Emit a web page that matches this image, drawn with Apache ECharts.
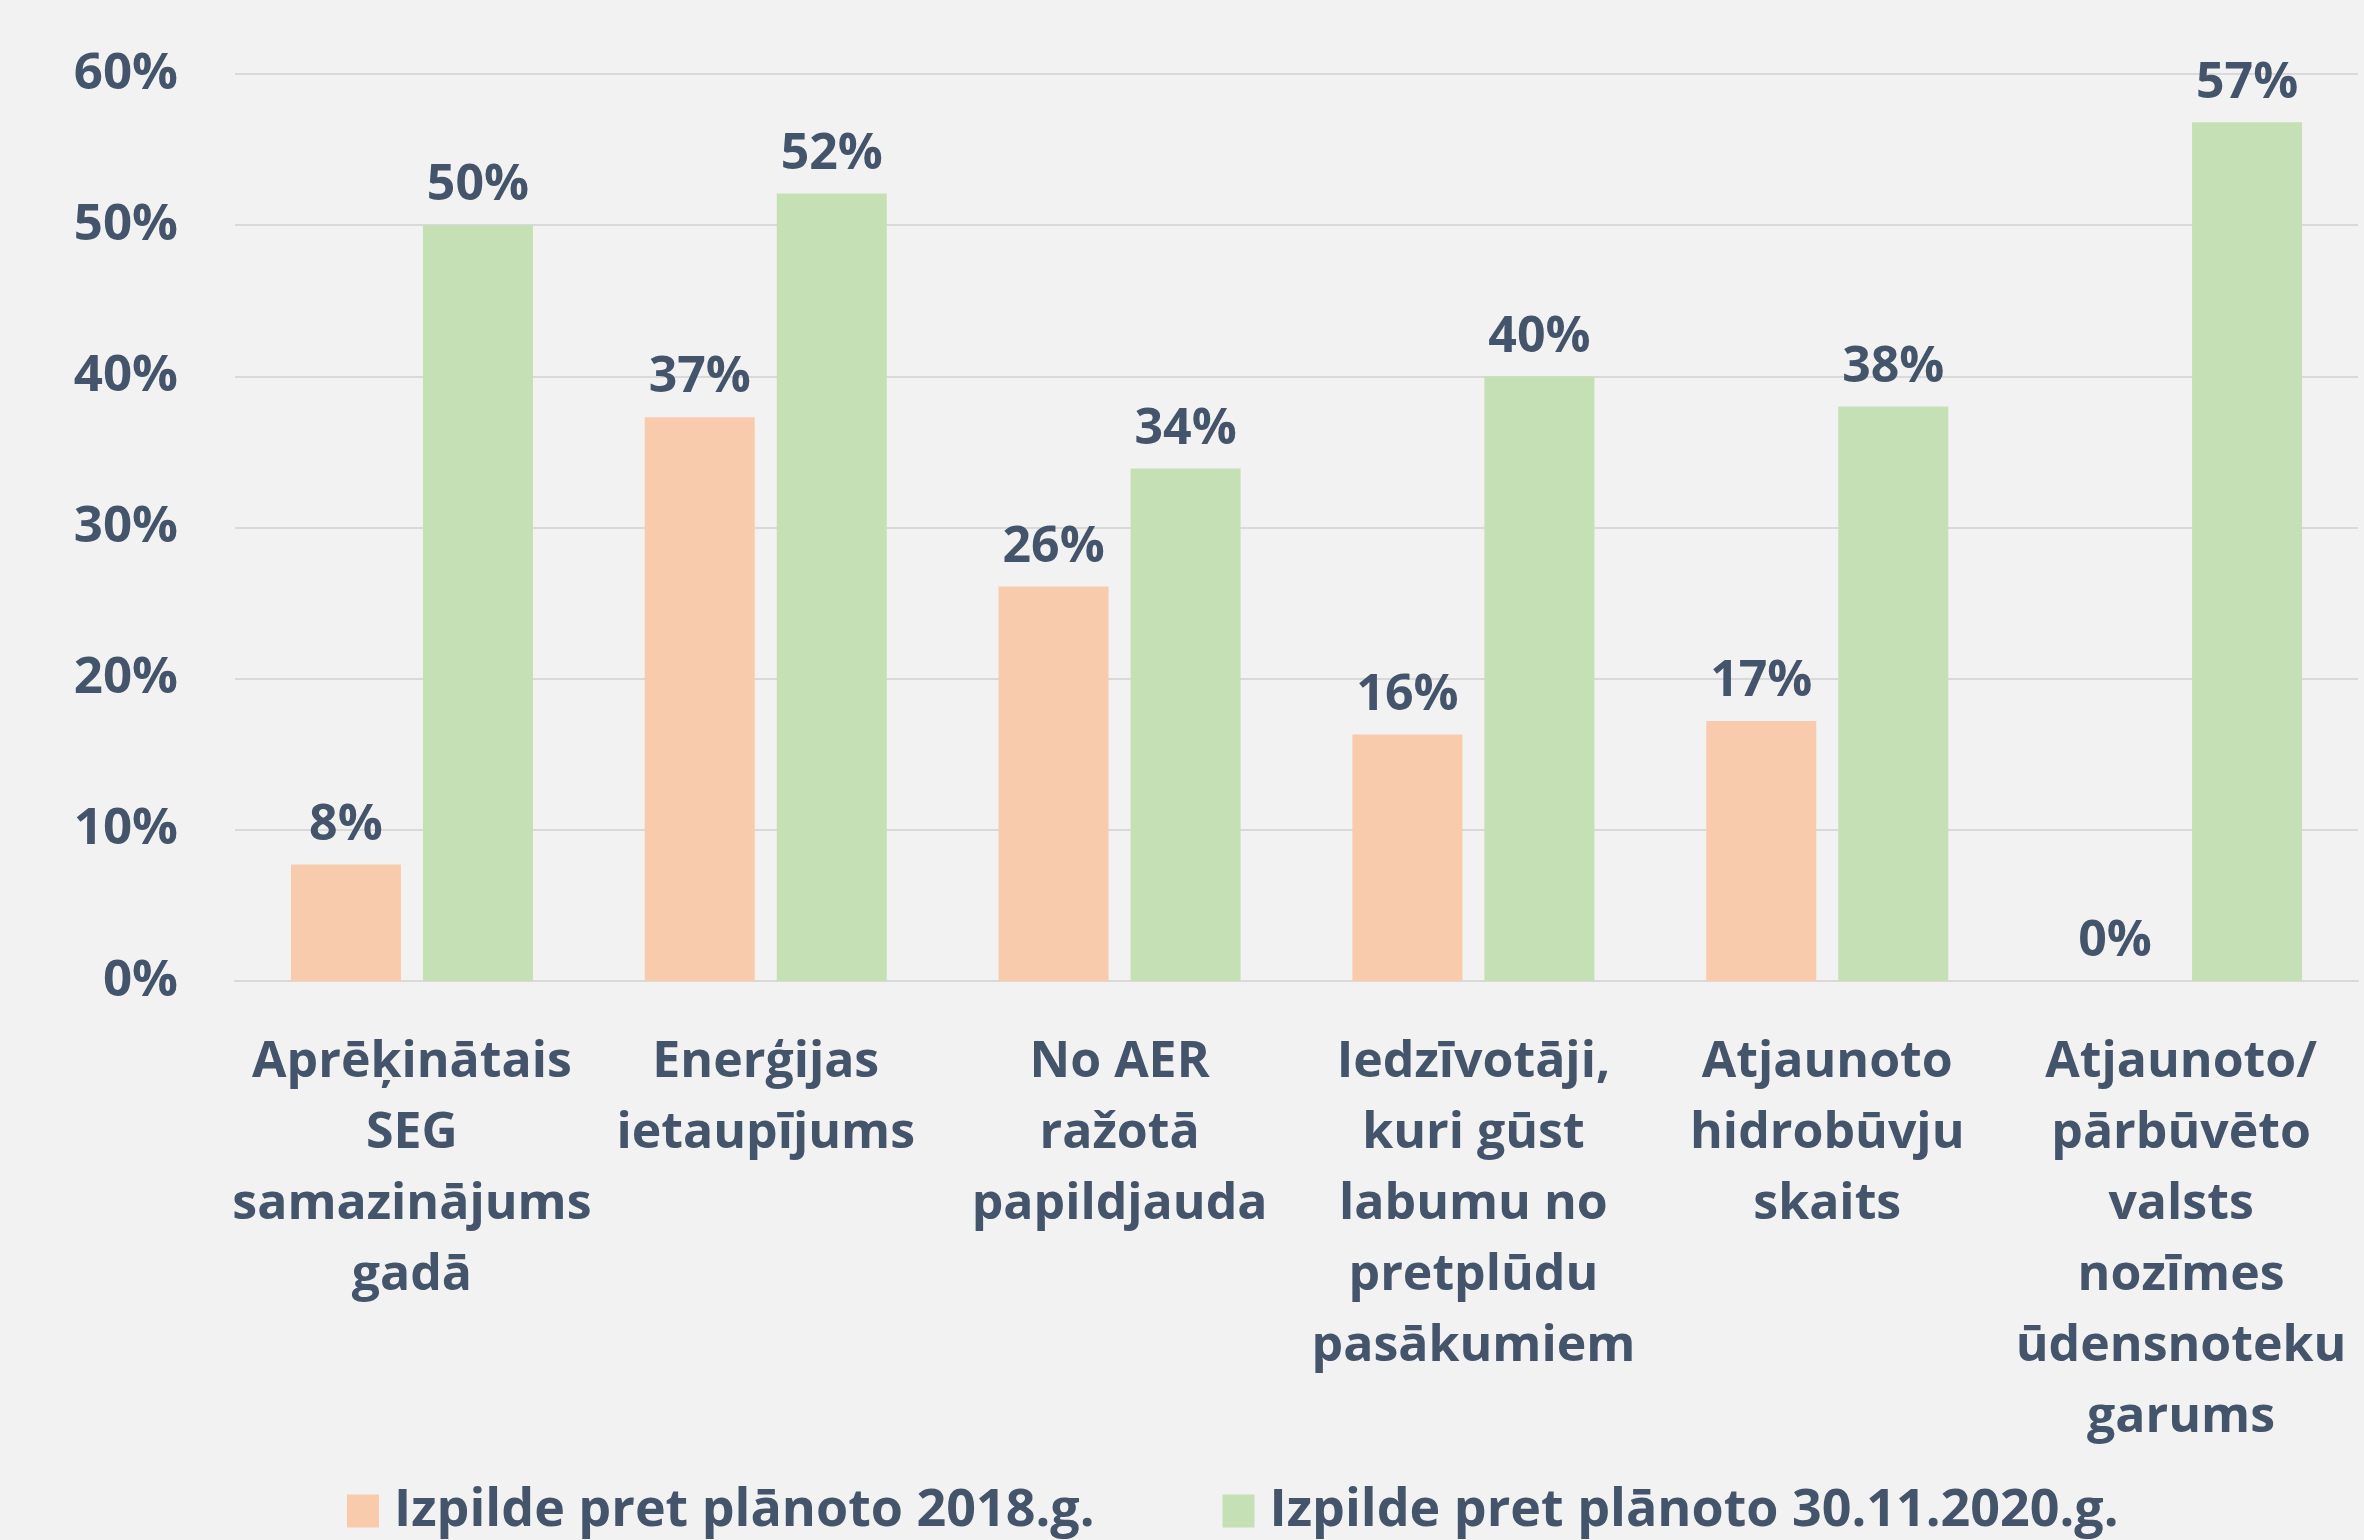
<!DOCTYPE html>
<html>
<head>
<meta charset="utf-8">
<script src="https://cdn.jsdelivr.net/npm/echarts@6/dist/echarts.min.js"></script>
<style>
  html, body { margin: 0; padding: 0; background: #f2f2f2; }
  #main { width: 2364px; height: 1540px; }
</style>
</head>
<body>
<div id="main"></div>
<script>
// kategorijas un vērtības (%)
const categories = [
  'Aprēķinātais\nSEG\nsamazinājums\ngadā',
  'Enerģijas\nietaupījums',
  'No AER\nražotā\npapildjauda',
  'Iedzīvotāji,\nkuri gūst\nlabumu no\npretplūdu\npasākumiem',
  'Atjaunoto\nhidrobūvju\nskaits',
  'Atjaunoto/\npārbūvēto\nvalsts\nnozīmes\nūdensnoteku\ngarums'
];
const seriesNames = ['Izpilde pret plānoto 2018.g.', 'Izpilde pret plānoto 30.11.2020.g.'];
const values2018 = [7.7, 37.3, 26.1, 16.3, 17.2, 0];
const values2020 = [50.0, 52.1, 33.9, 40.0, 38.0, 56.8];
const yTicks = [0, 10, 20, 30, 40, 50, 60];

const textColor = '#44546a';
const font = '"Open Sans", "Noto Sans", sans-serif';

var myChart = echarts.init(document.getElementById('main'));

const labelStyle = {
  show: true,
  position: 'top',
  distance: 14,
  color: textColor,
  fontFamily: font,
  fontWeight: 'bold',
  fontSize: 50,
  formatter: p => Math.round(p.value) + '%'
};

const option = {
  backgroundColor: '#f2f2f2',
  animation: false,
  textStyle: { fontFamily: font },
  grid: { left: 235, right: 6, top: 74, bottom: 559, containLabel: false },
  legend: {
    left: 342,
    top: 1480,
    itemWidth: 32,
    itemHeight: 33,
    itemGap: 128,
    icon: 'rect',
    textStyle: {
      color: textColor,
      fontFamily: font,
      fontWeight: 'bold',
      fontSize: 52,
      padding: [0, 0, 0, 10]
    },
    data: seriesNames
  },
  xAxis: {
    type: 'category',
    data: categories,
    axisLine: { lineStyle: { color: '#d9d9d9', width: 2 } },
    axisTick: { show: false },
    axisLabel: {
      interval: 0,
      margin: 46,
      color: textColor,
      fontFamily: font,
      fontWeight: 'bold',
      fontSize: 50,
      lineHeight: 71,
      align: 'center',
      verticalAlign: 'top'
    }
  },
  yAxis: {
    type: 'value',
    min: yTicks[0],
    max: yTicks[yTicks.length - 1],
    interval: 10,
    axisLine: { show: false },
    axisTick: { show: false },
    splitLine: { lineStyle: { color: '#d9d9d9', width: 2 } },
    axisLabel: {
      margin: 57,
      color: textColor,
      fontFamily: font,
      fontWeight: 'bold',
      fontSize: 51,
      formatter: '{value}%'
    }
  },
  series: [{
    name: seriesNames[0],
    type: 'bar',
    data: values2018,
    barWidth: 110,
    barGap: '20%',
    itemStyle: { color: '#f8cbad' },
    label: labelStyle
  }, {
    name: seriesNames[1],
    type: 'bar',
    data: values2020,
    barWidth: 110,
    barGap: '20%',
    itemStyle: { color: '#c5e0b4' },
    label: labelStyle
  }]
};
myChart.setOption(option);
</script>
</body>
</html>
